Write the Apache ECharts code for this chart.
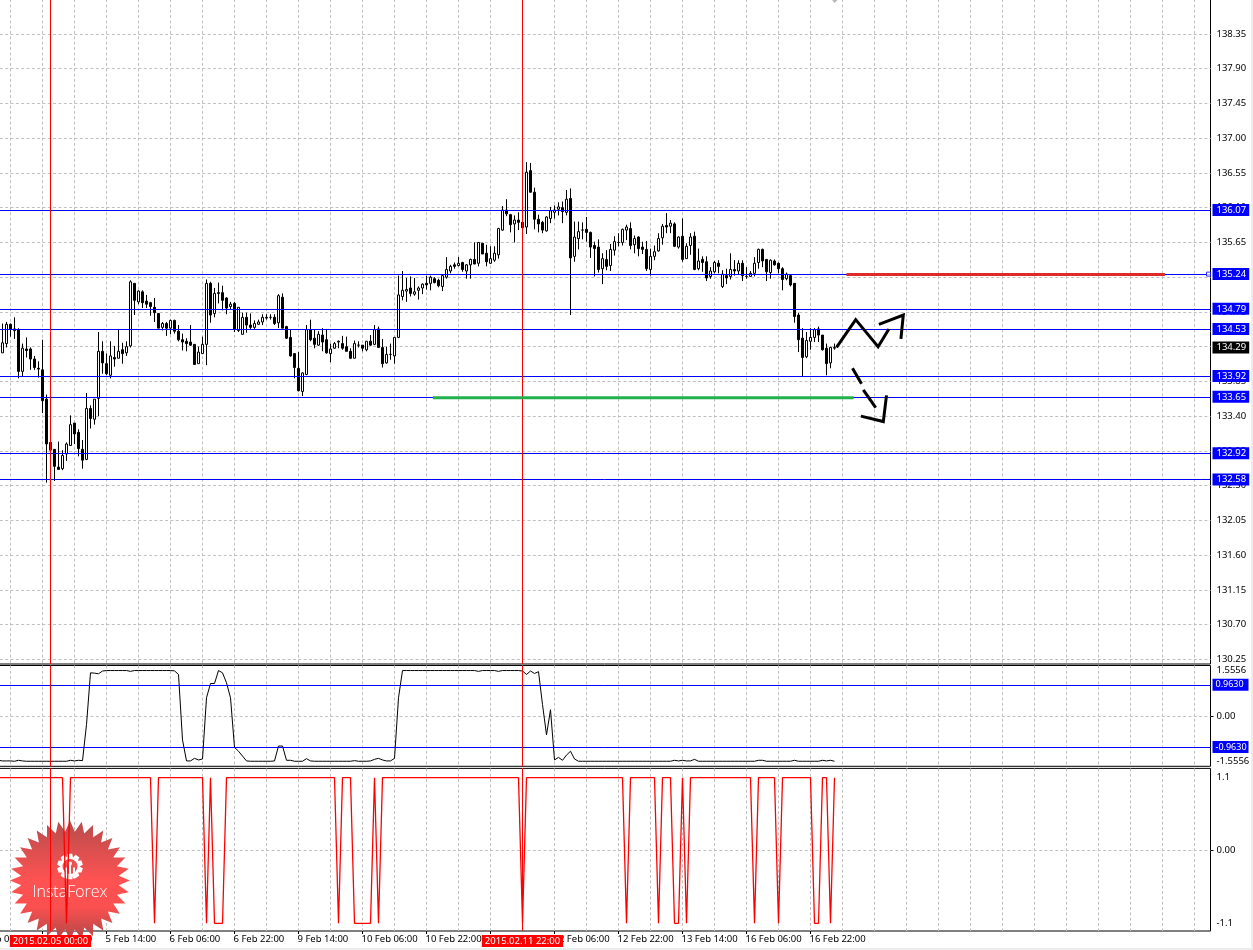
<!DOCTYPE html>
<html><head><meta charset="utf-8">
<style>html,body{margin:0;padding:0;background:#fff;overflow:hidden}#c{width:1253px;height:950px}</style>
<script src="https://cdn.jsdelivr.net/npm/echarts@6/dist/echarts.min.js"></script>
</head><body><div id="c"></div>
<script>
const tickLabels = ['4 Feb 06:00','4 Feb 22:00','5 Feb 14:00','6 Feb 06:00','6 Feb 22:00','9 Feb 14:00','10 Feb 06:00','10 Feb 22:00','11 Feb 14:00','12 Feb 06:00','12 Feb 22:00','13 Feb 14:00','16 Feb 06:00','16 Feb 22:00'];
const priceTicks = [130.25,130.70,131.15,131.60,132.05,132.50,132.95,133.40,133.85,134.30,134.75,135.20,135.65,136.10,136.55,137.00,137.45,137.90,138.35];
const priceLevels = [136.07,135.24,134.79,134.53,133.92,133.65,132.92,132.58];
const bidPrice = 134.29;
const oscLevels = [0.963,-0.963];
const oscTicks = [-1.5556,0,1.5556];
const fisherLabels = [-1.1,0,1.1];
const markedBars = [{bar:18,label:'2015.02.05 00:00'},{bar:136,label:'2015.02.11 22:00'}];
// open, close, low, high
const candlesA = [
[134.22,134.35,134.22,134.60],[134.34,134.59,134.29,134.62],[134.59,134.53,134.43,134.60],[134.53,134.51,134.40,134.68],[134.52,133.98,133.89,134.54],
[133.98,134.28,133.92,134.34],[134.27,134.25,134.16,134.42],[134.27,134.14,134.00,134.29],[134.14,134.03,134.00,134.18],[134.02,134.01,133.90,134.11],
[134.00,133.60,133.44,134.39],[133.62,133.04,132.54,133.68],[133.06,132.96,132.57,133.06],[132.97,132.75,132.56,132.97],[132.74,132.71,132.71,133.07],
[132.72,132.89,132.70,132.96],[132.91,133.04,132.82,133.06],[133.02,133.29,133.02,133.41],[133.31,133.17,133.04,133.31],[133.19,132.98,132.88,133.23],
[132.97,132.83,132.72,133.09],[132.84,133.50,132.83,133.70],[133.50,133.37,133.24,133.54],[133.36,133.62,133.29,133.62],[133.63,134.24,133.40,134.49],
[134.24,134.09,133.95,134.37],[134.08,133.95,133.93,134.21],[133.93,134.18,133.89,134.37],[134.16,134.14,134.04,134.31],[134.15,134.24,134.15,134.52],
[134.26,134.21,134.08,134.35],[134.22,134.30,134.18,134.37],[134.31,135.14,134.29,135.16],[135.12,134.90,134.71,135.12],[134.88,135.02,134.85,135.03],
[135.01,134.87,134.80,135.03],[134.89,134.85,134.80,134.97],[134.87,134.82,134.70,134.88],[134.81,134.74,134.62,134.93],[134.73,134.54,134.54,134.73],
[134.55,134.60,134.51,134.62],[134.60,134.54,134.44,134.62],[134.54,134.64,134.46,134.65],[134.64,134.50,134.47,134.65],[134.50,134.39,134.37,134.58],
[134.39,134.36,134.25,134.47],[134.37,134.34,134.24,134.41],[134.36,134.32,134.31,134.58],[134.33,134.07,134.07,134.33],[134.08,134.23,134.08,134.30],
[134.21,134.33,134.21,134.43],[134.33,135.12,134.06,135.17],[135.12,134.71,134.61,135.14],[134.73,134.99,134.68,135.06],[135.00,134.99,134.86,135.13],
[135.00,134.90,134.77,135.09],[134.93,134.80,134.72,134.94],[134.82,134.85,134.78,134.88],[134.86,134.53,134.49,134.88],[134.51,134.81,134.49,134.81],
[134.46,134.68,134.46,134.74],[134.68,134.58,134.48,134.74],[134.58,134.55,134.53,134.73],[134.55,134.60,134.53,134.64],[134.59,134.62,134.58,134.65],
[134.62,134.68,134.58,134.72],[134.67,134.68,134.65,134.72],[134.68,134.68,134.65,134.72],[134.68,134.60,134.58,134.72],[134.61,134.96,134.54,134.98],
[134.94,134.54,134.54,134.99],[134.56,134.41,134.40,134.57],[134.42,134.18,134.17,134.52],[134.21,134.03,133.89,134.21],[134.02,133.73,133.72,134.23],
[133.72,133.96,133.66,133.97],[133.94,134.52,133.93,134.58],[134.52,134.39,134.37,134.65],[134.41,134.33,134.28,134.52],[134.32,134.46,134.31,134.50],
[134.45,134.36,134.24,134.54],[134.39,134.22,134.21,134.53],[134.21,134.27,134.10,134.34],[134.28,134.34,134.27,134.36],[134.36,134.37,134.28,134.38],
[134.34,134.28,134.26,134.44],[134.30,134.24,134.24,134.43],[134.24,134.15,134.14,134.28],[134.15,134.34,134.15,134.38],[134.32,134.32,134.29,134.37],
[134.32,134.28,134.24,134.32],[134.26,134.37,134.24,134.37],[134.37,134.32,134.31,134.45],[134.33,134.52,134.32,134.58],[134.53,134.29,134.29,134.56],
[134.29,134.08,134.03,134.40],[134.09,134.20,134.08,134.30],[134.20,134.20,134.13,134.34],[134.18,134.42,134.08,134.42],[134.42,134.97,134.41,135.22],
[134.95,135.03,134.90,135.28],[135.02,135.04,134.88,135.19],[135.06,134.99,134.95,135.21],[134.98,135.01,134.96,135.19],[135.03,135.06,134.91,135.08]
];
const candlesB = [
[135.06,135.11,134.98,135.12],[135.12,135.10,135.04,135.22],[135.12,135.20,135.03,135.22],[135.18,135.13,135.12,135.20],[135.16,135.09,135.07,135.18],
[135.08,135.22,135.02,135.24],[135.20,135.30,135.18,135.46],[135.28,135.34,135.25,135.36],[135.36,135.34,135.31,135.39],[135.35,135.38,135.34,135.46],
[135.39,135.30,135.27,135.40],[135.28,135.36,135.18,135.37],[135.36,135.43,135.18,135.44],[135.43,135.37,135.37,135.65],[135.38,135.65,135.34,135.65],
[135.64,135.50,135.50,135.64],[135.51,135.40,135.34,135.62],[135.38,135.44,135.37,135.60],[135.42,135.51,135.40,135.60],[135.49,135.83,135.44,135.84],
[135.81,136.07,135.80,136.12],[136.07,136.02,135.99,136.21],[136.01,135.88,135.78,136.02],[135.89,135.94,135.65,136.00],[135.94,135.91,135.81,136.04],
[135.91,135.84,135.82,136.05],[135.85,136.56,135.76,136.69],[136.58,136.30,136.30,136.68],[136.30,135.95,135.82,136.36],[135.95,135.89,135.78,136.01],
[135.91,135.81,135.77,135.93],[135.80,135.98,135.79,135.99],[135.96,136.06,135.90,136.11],[136.04,136.07,135.96,136.13],[136.08,136.11,136.00,136.17],
[136.10,136.05,135.90,136.18],[136.04,136.21,136.00,136.33],[136.22,135.45,134.71,136.35],[135.47,135.72,135.40,135.92],[135.70,135.79,135.56,135.92],
[135.81,135.81,135.69,135.91],[135.82,135.78,135.66,135.98],[135.78,135.59,135.45,135.79],[135.61,135.57,135.21,135.66],[135.59,135.30,135.26,135.69],
[135.31,135.44,135.11,135.51],[135.43,135.34,135.29,135.55],[135.35,135.56,135.28,135.63],[135.55,135.66,135.48,135.73],[135.65,135.65,135.60,135.77],
[135.65,135.82,135.61,135.83],[135.81,135.85,135.68,135.88],[135.83,135.61,135.56,135.91],[135.62,135.70,135.51,135.74],[135.72,135.57,135.47,135.73],
[135.59,135.56,135.50,135.66],[135.56,135.31,135.28,135.67],[135.30,135.47,135.22,135.57],[135.47,135.53,135.42,135.61],[135.54,135.70,135.53,135.77],
[135.71,135.86,135.62,135.89],[135.87,135.85,135.77,136.03],[135.86,135.90,135.77,135.94],[135.89,135.60,135.59,135.91],[135.59,135.72,135.57,135.73],
[135.73,135.43,135.40,135.96],[135.44,135.60,135.44,135.64],[135.61,135.72,135.49,135.77],[135.73,135.30,135.29,135.79],[135.31,135.41,135.29,135.57],
[135.43,135.39,135.27,135.47],[135.40,135.19,135.15,135.47],[135.21,135.28,135.18,135.33],[135.27,135.39,135.25,135.41],[135.38,135.34,135.25,135.42],
[135.08,135.24,135.06,135.29],[135.22,135.19,135.11,135.31],[135.21,135.30,135.17,135.51],[135.30,135.28,135.22,135.42],[135.28,135.38,135.23,135.42],
[135.38,135.22,135.15,135.42],[135.21,135.21,135.18,135.33],[135.21,135.25,135.21,135.28],[135.25,135.38,135.21,135.46],[135.39,135.56,135.31,135.57],
[135.56,135.41,135.33,135.57],[135.43,135.27,135.15,135.43],[135.26,135.42,135.18,135.43],[135.41,135.36,135.35,135.43],[135.38,135.31,135.25,135.39],
[135.31,135.17,135.03,135.33],[135.18,135.24,135.16,135.26],[135.22,135.10,135.08,135.24],[135.12,134.69,134.61,135.12],[134.71,134.39,134.23,134.74],
[134.41,134.16,133.92,134.54],[134.17,134.38,134.15,134.49],[134.37,134.42,134.26,134.54],[134.42,134.52,134.36,134.54],[134.53,134.45,134.36,134.56],
[134.45,134.26,134.25,134.45],[134.28,134.08,133.93,134.34],[134.09,134.29,134.02,134.30],[134.28,134.29,134.26,134.34]
];
const oscValues = [
-1.37,-1.39,-1.39,-1.39,-1.40,-1.37,-1.39,-1.40,-1.40,-1.40,
-1.40,-1.40,-1.40,-1.40,-1.40,-1.40,-1.40,-1.40,-1.37,-1.39,
-1.37,-1.38,-0.27,1.33,1.32,1.30,1.385,1.40,1.40,1.40,
1.40,1.40,1.40,1.375,1.40,1.40,1.40,1.40,1.40,1.40,
1.40,1.40,1.40,1.40,1.39,1.28,-0.74,-1.39,-1.39,-1.31,
-1.36,-1.33,0.56,1.00,1.00,1.40,1.33,1.02,0.56,-0.97,
-1.09,-1.24,-1.39,-1.40,-1.40,-1.40,-1.40,-1.40,-1.40,-1.39,
-0.93,-0.93,-1.37,-1.37,-1.40,-1.40,-1.40,-1.32,-1.39,-1.40,
-1.40,-1.40,-1.40,-1.40,-1.40,-1.40,-1.40,-1.40,-1.40,-1.38,
-1.40,-1.40,-1.40,-1.39,-1.34,-1.31,-1.36,-1.39,-1.39,-1.31,
0.56,1.40,1.40,1.40,1.40,1.40,1.40,1.40,1.40,1.40,
1.40,1.40,1.40,1.40,1.40,1.40,1.40,1.40,1.40,1.40,
1.375,1.40,1.40,1.40,1.40,1.375,1.40,1.40,1.40,1.40,
1.40,1.385,1.28,1.385,1.31,1.365,0.35,-0.585,0.19,-1.36,
-1.28,-1.37,-1.21,-1.09,-1.33,-1.40,-1.40,-1.40,-1.40,-1.40,
-1.40,-1.40,-1.40,-1.40,-1.40,-1.40,-1.40,-1.40,-1.40,-1.40,
-1.40,-1.40,-1.40,-1.40,-1.40,-1.40,-1.40,-1.40,-1.40,-1.37,
-1.39,-1.37,-1.39,-1.39,-1.34,-1.40,-1.40,-1.40,-1.40,-1.40,
-1.40,-1.40,-1.40,-1.40,-1.40,-1.40,-1.40,-1.40,-1.40,-1.40,
-1.37,-1.37,-1.40,-1.40,-1.40,-1.40,-1.40,-1.40,-1.40,-1.37,
-1.40,-1.40,-1.40,-1.40,-1.40,-1.40,-1.37,-1.39,-1.37,-1.40
];
const fisherValues = [
1.1,1.1,1.1,1.1,1.1,1.1,1.1,1.1,1.1,1.1,
1.1,1.1,1.1,1.1,1.1,1.1,1.1,-1.1,1.1,1.1,
1.1,1.1,1.1,1.1,1.1,1.1,1.1,1.1,1.1,1.1,
1.1,1.1,1.1,1.1,1.1,1.1,1.1,1.1,1.1,-1.1,
1.1,1.1,1.1,1.1,1.1,1.1,1.1,1.1,1.1,1.1,
1.1,1.1,-1.1,1.1,-1.1,-1.1,-1.1,1.1,1.1,1.1,
1.1,1.1,1.1,1.1,1.1,1.1,1.1,1.1,1.1,1.1,
1.1,1.1,1.1,1.1,1.1,1.1,1.1,1.1,1.1,1.1,
1.1,1.1,1.1,1.1,1.1,-1.1,1.1,1.1,1.1,-1.1,
-1.1,-1.1,-1.1,-1.1,1.1,-1.1,1.1,1.1,1.1,1.1,
1.1,1.1,1.1,1.1,1.1,1.1,1.1,1.1,1.1,1.1,
1.1,1.1,1.1,1.1,1.1,1.1,1.1,1.1,1.1,1.1,
1.1,1.1,1.1,1.1,1.1,1.1,1.1,1.1,1.1,1.1,
1.1,-1.1,1.1,1.1,1.1,1.1,1.1,1.1,1.1,1.1,
1.1,1.1,1.1,1.1,1.1,1.1,1.1,1.1,1.1,1.1,
1.1,1.1,1.1,1.1,1.1,1.1,1.1,-1.1,1.1,1.1,
1.1,1.1,1.1,1.1,1.1,-1.1,1.1,1.1,1.1,-1.1,
-1.1,1.1,-1.1,1.1,1.1,1.1,1.1,1.1,1.1,1.1,
1.1,1.1,1.1,1.1,1.1,1.1,1.1,1.1,1.1,-1.1,
1.1,1.1,1.1,1.1,1.1,-1.1,1.1,1.1,1.1,1.1,
1.1,1.1,1.1,1.1,-1.1,-1.1,1.1,1.1,-1.1,1.1
];
// analyst annotations: [bar position, price]
const redZone = [[217,135.235],[296.6,135.235]];
const greenZone = [[113.6,133.64],[218.8,133.64]];
const strokes = [
 [[214.5,134.29],[219.3,134.65],[224.9,134.30],[227.6,134.53]],
 [[225.1,134.59],[231.2,134.71],[230.6,134.40]],
 [[218.5,134.02],[220.75,133.82]],
 [[221.2,133.74],[224.3,133.51]],
 [[220.6,133.40],[226.2,133.33],[227,133.67]]
];
const handlePoint = [307.5,135.24];

const BAR_COUNT = 309, CANDLE_START = 6, LINE_START = 5;
const FONT = '"Noto Sans"', FS = 9.5;
const categories = Array.from({length:BAR_COUNT},(_,i)=> i%16===0 ? (tickLabels[i/16]||'') : '');
const candleData = [...Array(CANDLE_START).fill([null,null,null,null]), ...candlesA, ...candlesB];
const pad = Array(LINE_START).fill(null);
const dashed = {color:'#c0c0c0',type:[3,2.33],width:1};
const blue = '#0000ff';

function xAxisCfg(idx, showLabels){
  return {type:'category',gridIndex:idx,data:categories,boundaryGap:false,
    axisLine:{show:false,onZero:false},
    axisTick:{show:showLabels,length:3,lineStyle:{color:'#000'},interval:(i)=>i%16===0&&i<=208},
    axisLabel:{show:showLabels,interval:(i)=>i%16===0&&i<=208,align:'left',margin:3,color:'#000',fontFamily:FONT,fontSize:FS,padding:[0,0,0,-1]},
    splitLine:{show:true,lineStyle:dashed,interval:(i)=>i%8===0}};
}
function yAxisCfg(idx,min,max,labelVals,tickVals,fmt,labelExtra){
  return {type:'value',gridIndex:idx,position:'right',min,max,scale:true,
    axisLine:{show:false},
    axisTick:{show:true,length:3,lineStyle:{color:'#000'},customValues:tickVals},
    axisLabel:Object.assign({show:true,customValues:labelVals,margin:6,color:'#000',fontFamily:FONT,fontSize:FS,formatter:fmt},labelExtra||{}),
    splitLine:{show:true,lineStyle:dashed}};
}
function levelLine(v,txt,bg,lineColor,fixedWidth){
  return {yAxis:v,lineStyle:{color:lineColor||'rgba(0,0,0,0)',width:1,type:'solid'},
    label:Object.assign({show:true,position:'end',distance:2,formatter:txt,color:'#fff',backgroundColor:bg,
      padding:[1,3,0,4],fontFamily:FONT,fontSize:FS,lineHeight:11,align:'left'},fixedWidth?{width:fixedWidth,padding:[1,0,0,3],fontSize:9}:{})};
}
function vLines(withLabel){
  return markedBars.map(m=>({xAxis:m.bar,lineStyle:{color:'#ff0000',width:1,type:'solid'},
    label:withLabel?{show:true,position:'start',distance:4,formatter:m.label,color:'#fff',backgroundColor:'#ff0000',
      padding:[1,3,1,3],fontFamily:FONT,fontSize:FS,lineHeight:10}:{show:false}}));
}
function annLine(points,color,width){
  return {type:'line',xAxisIndex:3,yAxisIndex:0,data:points,symbol:'none',silent:true,animation:false,z:6,
    lineStyle:{color,width,cap:'butt',join:'miter'}};
}

// watermark shapes
const cx=70,cy=880.5,teeth=32,burst=[];
for(let i=0;i<teeth*2;i++){const a=Math.PI*i/teeth,r=i%2?49:60;burst.push([cx+r*Math.sin(a),cy-r*Math.cos(a)]);}
const gx=70,gy=866.5,gear=[];
for(let i=0;i<10;i++){for(const [d,r] of [[-.2,9.5],[-.11,13],[.11,13],[.2,9.5]]){const a=2*Math.PI*(i/10+d/6.28*1.6);gear.push([gx+r*Math.sin(a),gy-r*Math.cos(a)]);}}

const gridBase = {left:-21.5,width:1232,show:true,borderColor:'#000',borderWidth:1,backgroundColor:'transparent',outerBoundsMode:'none'};
const chart = echarts.init(document.getElementById('c'),null,{renderer:'canvas',width:1253,height:950});
chart.setOption({
  animation:false,backgroundColor:'#fff',
  grid:[
   Object.assign({top:-1,height:665},gridBase),
   Object.assign({top:665.5,height:100.8},gridBase),
   Object.assign({top:768.4,height:162.6},gridBase)
  ],
  xAxis:[xAxisCfg(0,false),xAxisCfg(1,false),xAxisCfg(2,true),
   {type:'value',gridIndex:0,min:0,max:BAR_COUNT-1,show:false}],
  yAxis:[
   yAxisCfg(0,130.19,138.803,priceTicks,priceTicks,v=>v.toFixed(2)),
   yAxisCfg(1,-1.5556,1.5556,oscTicks,[0],v=>v===0?'0.00':v.toFixed(4),{verticalAlignMaxLabel:'top',verticalAlignMinLabel:'bottom'}),
   yAxisCfg(2,-1.216,1.24,fisherLabels,[0],v=>v===0?'0.00':v.toFixed(1))
  ],
  graphic:{elements:[
   {type:'rect',z:100,shape:{x:0,y:948,width:1253,height:2},style:{fill:'#ececec'},silent:true},
   {type:'rect',z:100,shape:{x:1251,y:0,width:2,height:950},style:{fill:'#ececec'},silent:true},
   {type:'polygon',z:100,shape:{points:[[832,0],[837.5,0],[834.7,3]]},style:{fill:'#b8b8b8'},silent:true},
   {type:'group',z:1,silent:true,children:[
    {type:'polygon',z:1,shape:{points:burst},style:{fill:new echarts.graphic.LinearGradient(0,0,0,1,[{offset:0,color:'#b84c4c'},{offset:.5,color:'#ff5252'},{offset:.72,color:'#fb5050'},{offset:1,color:'#b04646'}])}},
    {type:'polygon',z:1,shape:{points:gear},style:{fill:'#fff'}},
    {type:'circle',z:1,shape:{cx:gx,cy:gy,r:7.5},style:{fill:'#ee5050'}},
    {type:'circle',z:1,shape:{cx:gx,cy:gy-3,r:2},style:{fill:'#fff'}},
    {type:'rect',z:1,shape:{x:gx-1,y:gy-2,width:2,height:14},style:{fill:'#fff'}},
    {type:'rect',z:1,shape:{x:gx-5,y:gy+1,width:2,height:11},style:{fill:'#fff'}},
    {type:'rect',z:1,shape:{x:gx+3,y:gy+1,width:2,height:11},style:{fill:'#fff'}},
    {type:'text',z:1,style:{x:cx,y:892,text:'InstaForex',fill:'#fff',font:'300 16px "Open Sans"',align:'center',verticalAlign:'middle'}}
   ]}
  ]},
  series:[
   {type:'candlestick',xAxisIndex:0,yAxisIndex:0,data:candleData,barWidth:3,silent:true,animation:false,z:3,
    itemStyle:{color:'#fff',color0:'#000',borderColor:'#000',borderColor0:'#000',borderWidth:1},
    markLine:{silent:true,symbol:'none',animation:false,z:5,
      data:[...priceLevels.map(v=>levelLine(v,v.toFixed(2),blue,blue)),
            levelLine(bidPrice,bidPrice.toFixed(2),'#000',null),
            ...vLines(false)]}},
   annLine(redZone,'#df2a2a',3),annLine(greenZone,'#22b14c',3),
   ...strokes.map(s=>annLine(s,'#000',3)),
   {type:'scatter',xAxisIndex:3,yAxisIndex:0,data:[handlePoint],symbol:'rect',symbolSize:4,silent:true,animation:false,z:7,
    itemStyle:{color:'#fff',borderColor:blue,borderWidth:1}},
   {type:'line',xAxisIndex:1,yAxisIndex:1,data:[...pad,...oscValues],symbol:'none',silent:true,animation:false,z:3,
    lineStyle:{color:'#000',width:1},
    markLine:{silent:true,symbol:'none',animation:false,
      data:[...oscLevels.map(v=>levelLine(v,v.toFixed(4),blue,blue,33)),...vLines(false)]}},
   {type:'line',xAxisIndex:2,yAxisIndex:2,data:[...pad,...fisherValues],symbol:'none',silent:true,animation:false,z:3,
    lineStyle:{color:'#ff0000',width:1.3},
    markLine:{silent:true,symbol:'none',animation:false,data:vLines(true)}}
  ]
});
</script></body></html>
